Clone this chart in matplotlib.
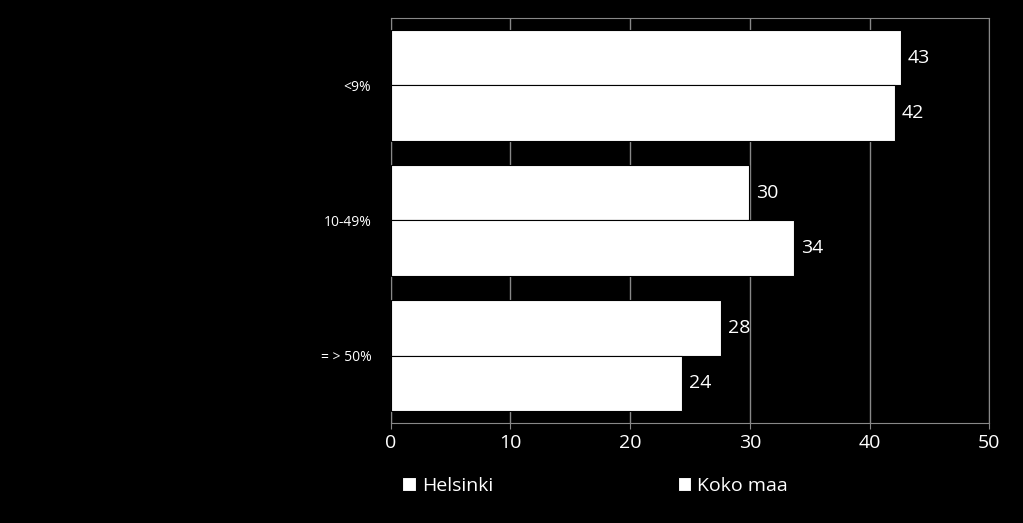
import matplotlib
matplotlib.use("Agg")
import matplotlib.pyplot as plt
import numpy as np

plt.rcParams['font.family'] = ['Open Sans', 'DejaVu Sans']

categories = ["<9%", "10-49%", "= > 50%"]
helsinki = [42.6, 29.9, 27.6]
koko_maa = [42.1, 33.7, 24.3]
series_names = ["Helsinki", "Koko maa"]

fig = plt.figure(figsize=(10.23, 5.23), dpi=100, facecolor="black")
ax = fig.add_axes([0.382, 0.191, 0.585, 0.775], facecolor="black")

y = np.arange(len(categories))
h = 0.41
b1 = ax.barh(y - h / 2, helsinki, height=h, color="white", edgecolor="black", linewidth=0.8, zorder=3, label=series_names[0])
b2 = ax.barh(y + h / 2, koko_maa, height=h, color="white", edgecolor="black", linewidth=0.8, zorder=3, label=series_names[1])

for bars, vals in ((b1, helsinki), (b2, koko_maa)):
    for r, v in zip(bars, vals):
        ax.text(v + 0.6, r.get_y() + r.get_height() / 2, f"{round(v)}",
                color="white", fontsize=14, va="center", ha="left", zorder=4)

ax.set_xlim(0, 50)
ax.set_ylim(2.5, -0.5)
ax.set_xticks(range(0, 51, 10))
ax.set_yticks(y)
ax.set_yticklabels(categories, fontsize=10, color="white")
ax.tick_params(axis="x", colors="white", labelsize=14, length=4, color="#888888")
ax.tick_params(axis="y", length=0, pad=14)
ax.xaxis.grid(True, color="#888888", linewidth=1, zorder=0)
for s in ax.spines.values():
    s.set_color("#888888")
ax.spines["left"].set_color("#888888")

leg = ax.legend(loc="upper left", bbox_to_anchor=(-0.01, -0.09), ncol=2, frameon=False,
                fontsize=14, labelcolor="white", handlelength=0.7, handleheight=0.7,
                handletextpad=0.3, columnspacing=9.5)

fig.savefig("out.png", dpi=100, facecolor="black")
